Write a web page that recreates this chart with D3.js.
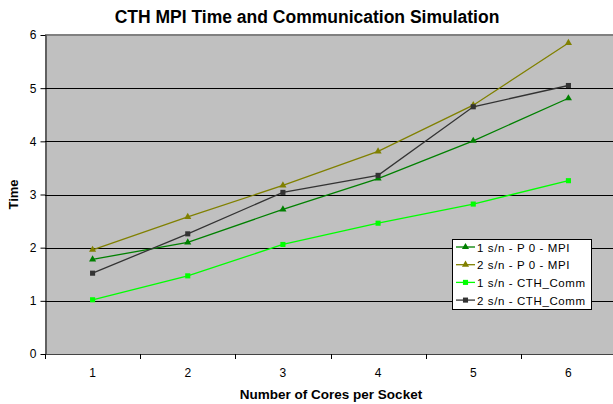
<!DOCTYPE html>
<html>
<head>
<meta charset="utf-8">
<script src="https://cdn.jsdelivr.net/npm/d3@7"></script>
<style>
  body { margin: 0; background: #fff; }
  svg { display: block; font-family: Arial, "Liberation Sans", sans-serif; }
</style>
</head>
<body>
<svg id="chart" width="613" height="404"></svg>
<script>
  'use strict';

  // chart data
  var cores = ['1', '2', '3', '4', '5', '6'];
  var mpi1 = [1.78, 2.10, 2.72, 3.30, 4.01, 4.81];
  var mpi2 = [1.96, 2.58, 3.17, 3.81, 4.68, 5.85];
  var comm1 = [1.02, 1.47, 2.06, 2.46, 2.82, 3.26];
  var comm2 = [1.52, 2.26, 3.04, 3.36, 4.65, 5.05];
  var yTicks = [0, 1, 2, 3, 4, 5, 6];

  var series = [
    { name: '1 s/n - P 0 - MPI', values: mpi1, color: '#008000', marker: 'triangle' },
    { name: '2 s/n - P 0 - MPI', values: mpi2, color: '#808000', marker: 'triangle' },
    { name: '1 s/n - CTH_Comm', values: comm1, color: '#00ff00', marker: 'square' },
    { name: '2 s/n - CTH_Comm', values: comm2, color: '#333333', marker: 'square' }
  ];

  var margin = { top: 35, left: 45, bottom: 354, right: 616 };
  var svg = d3.select('#chart');

  var x = d3.scaleBand().domain(cores).range([margin.left, margin.right]);
  var y = d3.scaleLinear().domain([0, 6]).range([margin.bottom, margin.top]);

  // plot background
  svg.append('rect')
    .attr('x', margin.left).attr('y', margin.top)
    .attr('width', margin.right - margin.left)
    .attr('height', margin.bottom - margin.top)
    .attr('fill', '#c0c0c0');

  // gridlines
  svg.append('g').selectAll('line')
    .data(yTicks.filter(function (d) { return d > 0 && d < 6; }))
    .enter().append('line')
      .attr('x1', margin.left).attr('x2', margin.right)
      .attr('y1', function (d) { return Math.round(y(d)) + 0.5; })
      .attr('y2', function (d) { return Math.round(y(d)) + 0.5; })
      .attr('stroke', '#000').attr('stroke-width', 1);

  // top border
  svg.append('line')
    .attr('x1', margin.left).attr('x2', margin.right)
    .attr('y1', margin.top).attr('y2', margin.top)
    .attr('stroke', '#808080').attr('stroke-width', 2);

  // y axis
  var yAxis = svg.append('g')
    .attr('transform', 'translate(' + (margin.left + 0.5) + ',0)')
    .call(d3.axisLeft(y).tickValues(yTicks).tickFormat(d3.format('d'))
      .tickSize(5).tickSizeOuter(0).tickPadding(4));
  yAxis.select('.domain').attr('stroke', '#000');
  yAxis.selectAll('.tick line').attr('stroke', '#000');
  yAxis.selectAll('text').attr('font-size', 12).attr('fill', '#000')
    .attr('font-family', 'Arial, "Liberation Sans", sans-serif');

  // x axis line and tick marks at band edges
  svg.append('line')
    .attr('x1', margin.left).attr('x2', margin.right)
    .attr('y1', margin.bottom + 0.5).attr('y2', margin.bottom + 0.5)
    .attr('stroke', '#444');
  svg.append('g').selectAll('line')
    .data(cores)
    .enter().append('line')
      .attr('x1', function (d) { return Math.round(x(d)) + 0.5; })
      .attr('x2', function (d) { return Math.round(x(d)) + 0.5; })
      .attr('y1', margin.bottom).attr('y2', margin.bottom + 5)
      .attr('stroke', '#000');
  svg.append('g').selectAll('text')
    .data(cores)
    .enter().append('text')
      .attr('x', function (d) { return x(d) + x.bandwidth() / 2; })
      .attr('y', 377)
      .attr('text-anchor', 'middle')
      .attr('font-size', 12)
      .text(function (d) { return d; });

  // lines and markers
  var line = d3.line()
    .x(function (d, i) { return x(cores[i]) + x.bandwidth() / 2; })
    .y(function (d) { return y(d); });

  var tri = d3.symbol().type(d3.symbolTriangle).size(22);
  var sq = d3.symbol().type(d3.symbolSquare).size(26);

  series.forEach(function (s) {
    var g = svg.append('g');
    g.append('path')
      .attr('d', line(s.values))
      .attr('fill', 'none')
      .attr('stroke', s.color)
      .attr('stroke-width', 1.3);
    g.selectAll('path.pt')
      .data(s.values)
      .enter().append('path')
        .attr('class', 'pt')
        .attr('transform', function (d, i) {
          return 'translate(' + (x(cores[i]) + x.bandwidth() / 2) + ',' + y(d) + ')';
        })
        .attr('d', s.marker === 'triangle' ? tri : sq)
        .attr('fill', s.color);
  });

  // title and axis titles
  svg.append('text')
    .attr('x', 307).attr('y', 23)
    .attr('text-anchor', 'middle')
    .attr('font-size', 17.5).attr('font-weight', 'bold')
    .text('CTH MPI Time and Communication Simulation');

  svg.append('text')
    .attr('x', 331).attr('y', 399)
    .attr('text-anchor', 'middle')
    .attr('font-size', 13.5).attr('font-weight', 'bold')
    .text('Number of Cores per Socket');

  svg.append('text')
    .attr('transform', 'translate(18,' + y(3) + ') rotate(-90)')
    .attr('text-anchor', 'middle')
    .attr('font-size', 13).attr('font-weight', 'bold')
    .text('Time');

  // legend
  var legend = svg.append('g').attr('transform', 'translate(452,239)');
  legend.append('rect')
    .attr('x', 0.5).attr('y', 0.5)
    .attr('width', 139).attr('height', 70)
    .attr('fill', '#fff').attr('stroke', '#000');
  var item = legend.selectAll('g.item')
    .data(series)
    .enter().append('g')
      .attr('class', 'item')
      .attr('transform', function (d, i) { return 'translate(0,' + (8 + i * 17.7) + ')'; });
  item.append('line')
    .attr('x1', 4).attr('x2', 23)
    .attr('stroke', function (d) { return d.color; })
    .attr('stroke-width', 1.3);
  item.append('path')
    .attr('transform', 'translate(13.5,0)')
    .attr('d', function (d) { return d.marker === 'triangle' ? tri() : sq(); })
    .attr('fill', function (d) { return d.color; });
  item.append('text')
    .attr('x', 25).attr('y', 4.5)
    .attr('font-size', 11.5)
    .attr('letter-spacing', 0.6)
    .text(function (d) { return d.name; });
</script>
</body>
</html>
